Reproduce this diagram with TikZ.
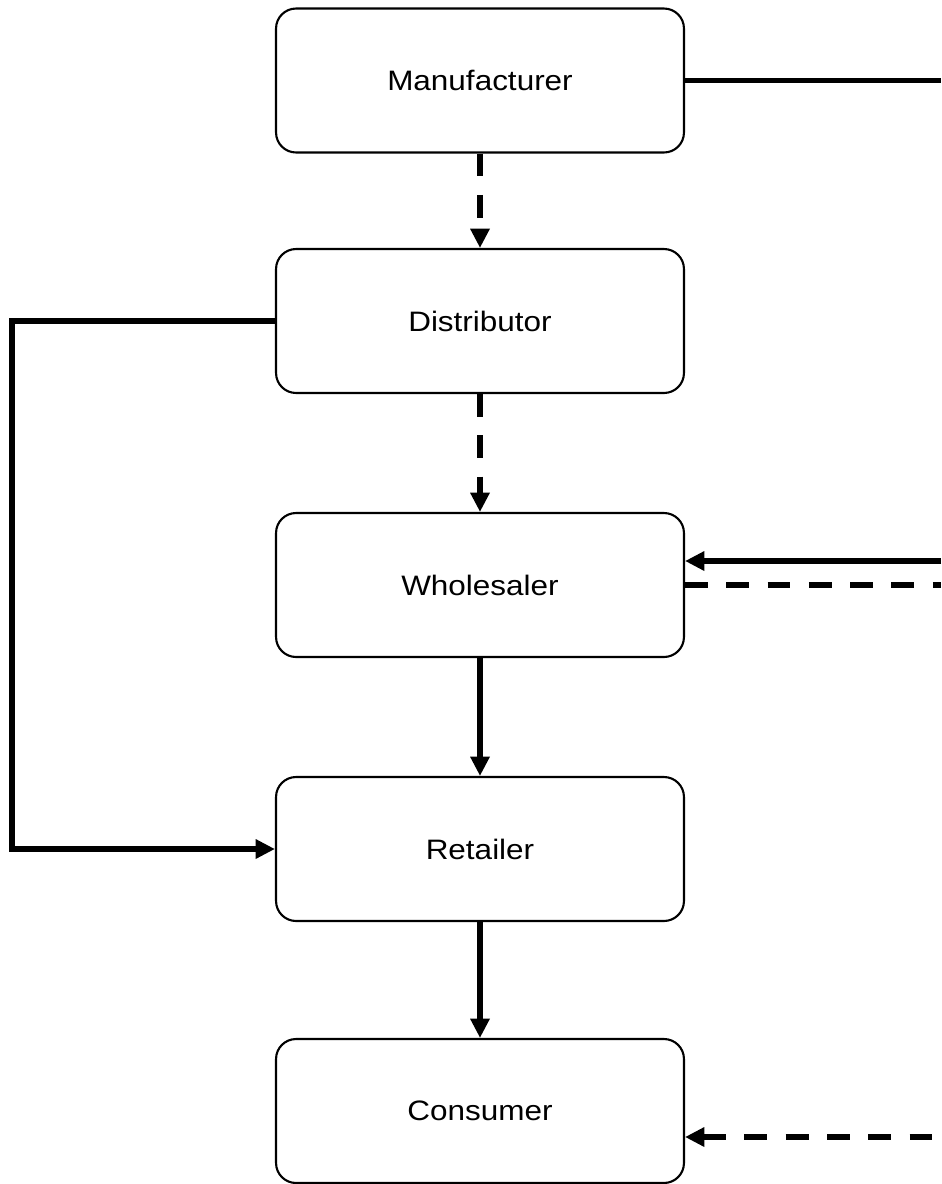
\documentclass[tikz,border=0pt]{standalone}
\usepackage{fontspec}
\setmainfont{Liberation Sans}[FakeStretch=1.12]
\usetikzlibrary{arrows.meta}

\begin{document}
\begin{tikzpicture}[x=0.02cm, y=-0.02cm, >={Triangle[length=11pt, width=10.5pt]},
    box/.style={draw, line width=1.2pt, rounded corners=0.4cm, minimum width=8.16cm,
      minimum height=2.88cm, inner sep=0pt, font=\fontsize{16}{19}\selectfont},
    flow/.style={line width=3.2pt},
    dashflow/.style={flow, dash pattern=on 13pt off 10.5pt}]
        \useasboundingbox (0,0) rectangle (941,1184);

        \node[box] (man) at (480,80.5) {Manufacturer};
        \node[box] (dist) at (480,321) {Distributor};
        \node[box] (whole) at (480,585) {Wholesaler};
        \node[box] (ret) at (480,849) {Retailer};
        \node[box] (cons) at (480,1111) {Consumer};

        % loose ends at the right border, bend on the left
        \coordinate (manOut) at (941,80.5);
        \coordinate (wholeIn) at (941,561);
        \coordinate (wholeOut) at (941,585);
        \coordinate (consIn) at (941,1137);
        \coordinate (bend) at (12,321);

        \draw[dashflow,->] (man) -- (dist);
        \draw[dashflow,->] (dist) -- (whole);
        \draw[flow,->] (whole) -- (ret);
        \draw[flow,->] (ret) -- (cons);
        \draw[flow,->] (dist.west) -- (bend) |- (ret.west);
        \draw[flow] (man.east) -- (manOut);
        \draw[flow,->] (wholeIn) -- (whole.east |- wholeIn);
        \draw[dashflow] (whole.east) -- (wholeOut);
        \draw[dashflow,<-] (cons.east |- consIn) -- (consIn);
    \end{tikzpicture}
\end{document}
